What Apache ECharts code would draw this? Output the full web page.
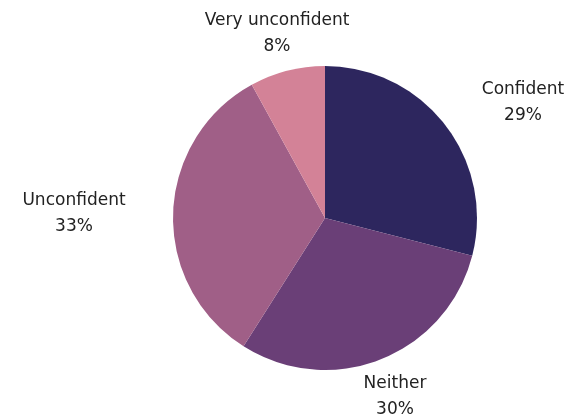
<!DOCTYPE html>
<html>
<head>
<meta charset="utf-8">
<script src="https://cdn.jsdelivr.net/npm/echarts@6/dist/echarts.min.js"></script>
<style>
  html, body { margin: 0; padding: 0; background: #fff; }
  #main { width: 587px; height: 419px; }
</style>
</head>
<body>
<div id="main"></div>
<script>
// slices, clockwise from 12 o'clock
const categories = ['Confident', 'Neither', 'Unconfident', 'Very unconfident'];
const shares = [29, 30, 33, 8];
const colors = ['#2d265e', '#6a3f77', '#a05f87', '#d38297'];

// label block centre, as offset from the pie centre
const labelOffsets = [[198, -115], [70, 179], [-251, -4], [-48, -184]];

const pieCenter = [325, 218];

var chart = echarts.init(document.getElementById('main'));

var option = {
    animation: false,
    color: colors,
    series: [
        {
            type: 'pie',
            center: pieCenter,
            radius: 152,
            startAngle: 90,
            clockwise: true,
            data: categories.map((name, i) => ({ name: name, value: shares[i] })),
            label: {
                show: true,
                position: 'outside',
                formatter: '{b}\n{c}%',
                fontFamily: 'DejaVu Sans',
                fontSize: 17,
                lineHeight: 26,
                color: '#222222'
            },
            labelLine: { show: false },
            labelLayout: function (params) {
                var off = labelOffsets[params.dataIndex];
                return {
                    x: pieCenter[0] + off[0],
                    y: pieCenter[1] + off[1],
                    align: 'center',
                    verticalAlign: 'middle'
                };
            },
            itemStyle: { borderWidth: 0 }
        }
    ]
};

chart.setOption(option);
</script>
</body>
</html>
